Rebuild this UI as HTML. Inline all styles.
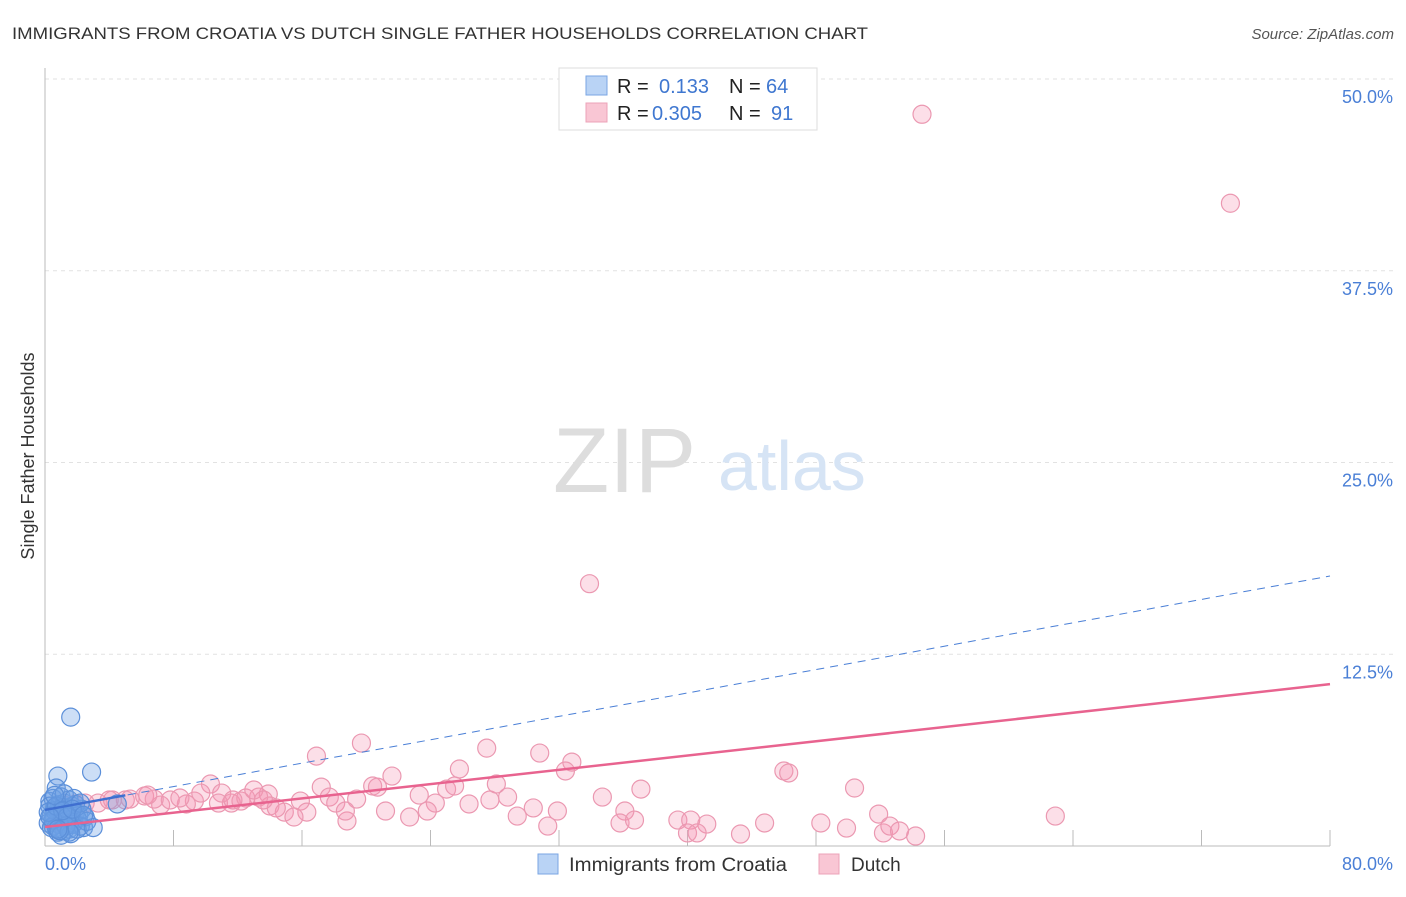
<!DOCTYPE html>
<html><head><meta charset="utf-8"><style>
body{margin:0;background:#fff;font-family:"Liberation Sans",sans-serif;}
svg text{font-family:"Liberation Sans",sans-serif;}
</style></head><body>
<svg width="1406" height="892" viewBox="0 0 1406 892">
<text x="12" y="39" font-size="17" fill="#333" textLength="856" lengthAdjust="spacingAndGlyphs">IMMIGRANTS FROM CROATIA VS DUTCH SINGLE FATHER HOUSEHOLDS CORRELATION CHART</text>
<text x="1394" y="39" font-size="15" fill="#555" font-style="italic" text-anchor="end">Source: ZipAtlas.com</text>
<g id="grid"></g>
<line x1="45" y1="68" x2="45" y2="846" stroke="#bbb"/>
<line x1="45" y1="846" x2="1330" y2="846" stroke="#bbb"/>
<text x="553" y="492" font-size="92" fill="#ddd" font-family="Liberation Serif">ZIP</text>
<text x="718" y="490" font-size="70" fill="#d6e4f5">atlas</text>
<text transform="translate(34,456) rotate(-90)" font-size="18" fill="#333" text-anchor="middle">Single Father Households</text>
<text x="45" y="870" font-size="18" fill="#4a7fd6">0.0%</text>
<text x="1393" y="870" font-size="18" fill="#4a7fd6" text-anchor="end">80.0%</text>
<g id="pts"></g>
<g id="lines"></g>
<g>
<rect x="559" y="68" width="258" height="62" fill="#fff" stroke="#ddd"/>
<rect x="586" y="76" width="21" height="19" fill="#b9d3f5" stroke="#7aa6e3"/>
<rect x="586" y="103" width="21" height="19" fill="#f9c6d4" stroke="#eca3b8"/>
<text x="617" y="93" font-size="20" fill="#222">R =</text>
<text x="659" y="93" font-size="20" fill="#3f77d0">0.133</text>
<text x="729" y="93" font-size="20" fill="#222">N =</text>
<text x="766" y="93" font-size="20" fill="#3f77d0">64</text>
<text x="617" y="120" font-size="20" fill="#222">R =</text>
<text x="652" y="120" font-size="20" fill="#3f77d0">0.305</text>
<text x="729" y="120" font-size="20" fill="#222">N =</text>
<text x="771" y="120" font-size="20" fill="#3f77d0">91</text>
</g>
<g>
<rect x="538" y="854" width="20" height="20" fill="#b9d3f5" stroke="#7aa6e3"/>
<text x="569" y="871" font-size="19" fill="#333" textLength="218" lengthAdjust="spacingAndGlyphs">Immigrants from Croatia</text>
<rect x="819" y="854" width="20" height="20" fill="#f9c6d4" stroke="#eca3b8"/>
<text x="851" y="871" font-size="19" fill="#333">Dutch</text>
</g>
</svg>
<script>
const yTicks=[12.5,25,37.5,50];
const yTickLabels=["12.5%","25.0%","37.5%","50.0%"];
const xTicks=[8,16,24,32,40,48,56,64,72,80];
const dutchX=[54.6,73.8,33.9,16.9,19.7,27.5,30.8,32.8,25.8,32.4,21.6,46.0,46.3,50.4,10.3,17.2,20.4,20.7,37.1,34.7,28.8,27.7,24.3,23.3,25.0,25.5,28.1,26.4,17.7,19.4,18.1,15.9,13.9,13.3,11.6,12.2,11.0,9.3,8.8,7.2,7.8,6.2,5.0,4.2,3.3,2.5,1.9,1.2,4.0,5.3,6.8,9.7,12.5,14.0,14.9,16.3,15.5,18.8,21.2,22.7,23.8,29.4,30.4,31.3,31.9,36.1,35.8,36.7,39.4,40.2,41.2,40.0,40.6,43.3,44.8,48.3,49.9,51.9,52.2,52.6,53.2,54.2,62.9,14.4,18.7,13.0,13.6,6.4,8.4,10.8,11.7];
const dutchY=[47.7,41.9,17.1,5.86,6.71,6.38,6.06,5.47,5.02,4.89,4.56,4.89,4.76,3.78,4.04,3.84,3.91,3.84,3.71,3.19,3.19,3.0,2.8,3.32,3.71,3.91,4.04,2.74,3.19,3.06,2.8,2.93,3.39,3.19,2.8,2.93,3.45,2.93,2.74,2.67,3.0,3.26,3.0,3.0,2.8,2.8,2.74,2.67,3.0,3.06,3.06,3.45,3.13,2.61,2.21,2.21,1.89,1.63,2.28,1.89,2.28,1.95,2.48,1.30,2.28,2.28,1.50,1.69,1.69,1.69,1.43,0.85,0.85,0.78,1.50,1.50,1.17,2.08,0.85,1.30,0.98,0.65,1.95,2.48,2.28,3.65,3.0,3.32,3.13,2.8,3.0];
const croX=[1.6,2.9,0.8,4.5,0.7,0.3,0.5,0.6,0.9,1.0,1.2,1.4,1.5,1.7,1.9,2.1,2.3,2.5,0.4,0.6,0.8,1.1,1.3,1.6,1.8,2.0,2.2,0.2,0.5,0.7,1.0,1.2,1.5,1.7,2.4,0.3,0.6,0.9,1.1,1.4,1.9,2.6,0.4,0.8,1.3,1.6,2.0,0.5,1.0,1.5,0.2,0.7,1.2,1.8,2.2,0.9,1.4,0.6,1.1,3.0,0.3,1.7,2.4,0.8];
const croY=[8.4,4.82,4.56,2.74,3.78,2.9,3.1,2.5,2.7,3.2,2.8,2.4,3.0,2.6,2.2,2.0,2.4,1.9,2.0,1.8,2.2,1.9,2.1,1.7,1.5,1.8,1.3,1.5,1.3,1.2,1.6,1.0,1.1,1.4,1.2,2.6,2.3,1.4,2.5,2.0,2.7,1.6,1.2,0.9,1.3,0.8,1.1,1.7,0.7,0.9,2.2,2.6,3.4,3.1,2.8,1.0,1.9,3.3,2.3,1.2,1.9,2.4,2.0,1.1];
const croTrend=[2.35,17.6], dutchTrend=[1.24,10.55];
const X=v=>45+v*(1285/80), Y=v=>846-v*(767/50);
const NS="http://www.w3.org/2000/svg";
function mk(t,a,p){const e=document.createElementNS(NS,t);for(const k in a)e.setAttribute(k,a[k]);p.appendChild(e);return e;}
const grid=document.getElementById('grid');
yTicks.forEach((t,i)=>{
 const l=mk('line',{x1:45,x2:1395,y1:Y(t),y2:Y(t),stroke:'#e2e2e2','stroke-dasharray':'4,4'},grid);
 
 
 const tx=mk('text',{x:1393,y:Y(t)+24,'font-size':18,fill:'#4a7fd6','text-anchor':'end'},grid);
 tx.textContent=yTickLabels[i];
 
 
});
xTicks.forEach(t=>{
 const l=mk('line',{x1:X(t),x2:X(t),y1:830,y2:846,stroke:'#bbb'},grid);
 
 
});
const pts=document.getElementById('pts');
dutchX.forEach((x,i)=>{
 const c=mk('circle',{cx:X(x),cy:Y(dutchY[i]),r:9,fill:'rgba(244,150,178,0.3)',stroke:'#eb98b1','stroke-width':1.2},pts);
 
 
});
croX.forEach((x,i)=>{
 const c=mk('circle',{cx:X(x),cy:Y(croY[i]),r:9,fill:'rgba(110,160,230,0.35)',stroke:'#5b8fd9','stroke-width':1.2},pts);
 
 
});
const lg=document.getElementById('lines');
const cy=v=>croTrend[0]+(croTrend[1]-croTrend[0])*v/80;
const l1=mk('line',{x1:X(0),y1:Y(cy(0)),x2:X(80),y2:Y(cy(80)),stroke:'#4a7fd6','stroke-width':1,'stroke-dasharray':'8,6'},lg);


const l1s=mk('line',{x1:X(0),y1:Y(cy(0)),x2:X(5),y2:Y(cy(5)),stroke:'#3f6fd0','stroke-width':2.5},lg);


const l2=mk('line',{x1:X(0),y1:Y(dutchTrend[0]),x2:X(80),y2:Y(dutchTrend[1]),stroke:'#e8638f','stroke-width':2.5},lg);


</script>
</body></html>
